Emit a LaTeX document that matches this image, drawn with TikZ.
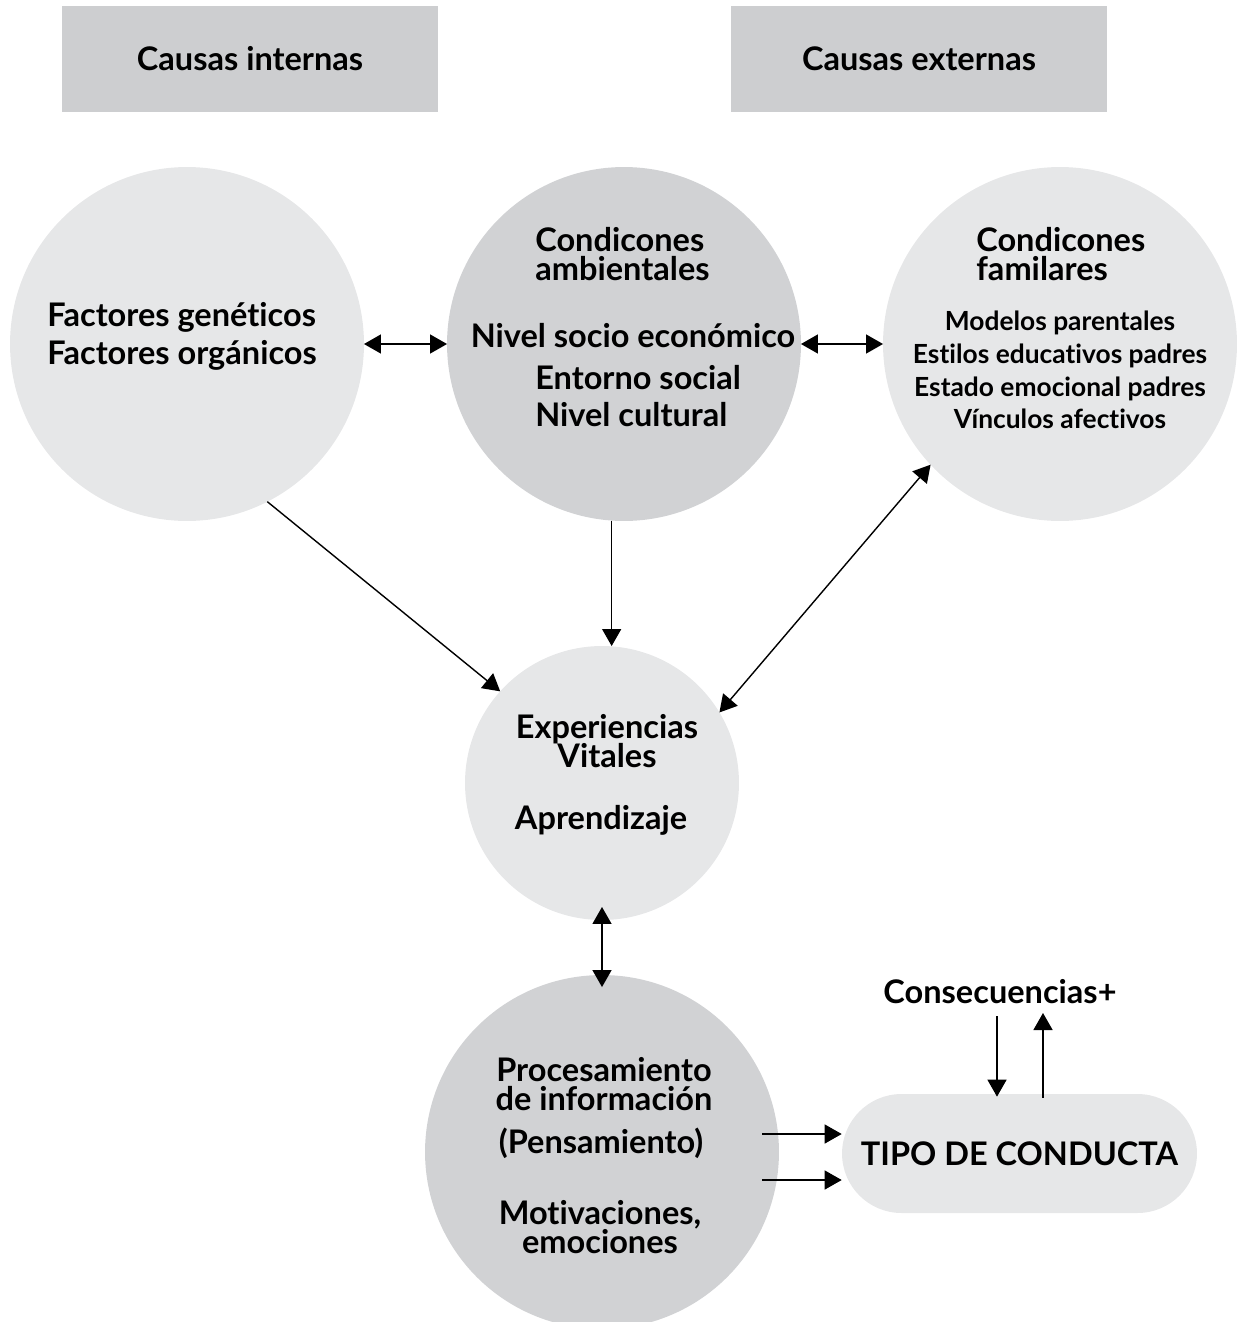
\documentclass[tikz,border=0pt]{standalone}
\usepackage{fontspec}
\setmainfont{Lato}[Ligatures=NoCommon]
\usetikzlibrary{calc,arrows.meta,positioning}
\definecolor{boxgray}{HTML}{CDCED0}
\definecolor{softgray}{HTML}{E6E7E8}
\definecolor{midgray}{HTML}{D1D2D4}
\newcommand{\mainsize}[1][21.6]{\fontsize{18.5}{#1}\selectfont\bfseries\lineskiplimit=-20pt\relax}
\newcommand{\subsize}{\fontsize{15}{18.7}\selectfont\bfseries\lineskiplimit=-20pt\relax}
\tikzset{
  causa/.style={fill=boxgray,minimum width=7.52cm,minimum height=2.12cm,inner sep=0pt,font=\mainsize},
  circ/.style={circle,inner sep=0pt,outer sep=0pt,minimum size=#1},
  pill/.style={fill=softgray,rounded corners=1.19cm,minimum width=7.1cm,minimum height=2.38cm,inner sep=0pt,font=\mainsize},
  txt/.style={inner sep=0pt,font=\mainsize},
  sgl/.style={line width=0.8pt,-{Triangle[length=0.34cm,width=0.38cm]}},
  dbl/.style={line width=0.8pt,{Triangle[length=0.34cm,width=0.38cm]}-{Triangle[length=0.34cm,width=0.38cm]}}
}
\begin{document}
\begin{tikzpicture}[x=0.02cm,y=-0.02cm]
  \useasboundingbox (0,0) rectangle (1241,1322);
  \node[causa] (internas) at (250,59) {Causas internas};
  \node[causa] (externas) at (919,59) {Causas externas};

  \node[circ=7.08cm,fill=softgray] (gen) at (187,344) {};
  \node[circ=7.08cm,fill=midgray] (amb) at (624,344) {};
  \node[circ=7.08cm,fill=softgray] (fam) at (1060,344) {};
  \node[circ=5.48cm,fill=softgray] (exp) at (602,783) {};
  \node[circ=7.08cm,fill=midgray] (proc) at (602,1152) {};
  \node[pill] (tipo) at (1019.5,1153.5) {TIPO DE CONDUCTA};

  \node[txt,align=left,anchor=west] (gentxt) at (47,336) {Factores genéticos\\Factores orgánicos};
  \node[txt,align=left,anchor=west,font={\mainsize[16.2]}] (ambtit) at (535,254) {Condicones\\ambientales};
  \node[txt] (ambnivel) at (633,336) {Nivel socio económico};
  \node[txt,align=left,anchor=west,font={\mainsize[21]}] (ambsub) at (535,396) {Entorno social\\Nivel cultural};
  \node[txt,align=left,anchor=west,font={\mainsize[16.2]}] (famtit) at (976,254) {Condicones\\familares};
  \node[txt,align=center,font=\subsize] (famsub) at (1060,370) {Modelos parentales\\Estilos educativos padres\\Estado emocional padres\\Vínculos afectivos};
  \node[txt,align=center,font={\mainsize[16.8]}] (exptit) at (607,741) {Experiencias\\Vitales};
  \node[txt] (expapr) at (601,820) {Aprendizaje};
  \node[txt,align=center,font={\mainsize[16.8]}] (proctit) at (604,1084) {Procesamiento\\de información};
  \node[txt] (procpens) at (601,1143) {(Pensamiento)};
  \node[txt,align=center,font={\mainsize[16.6]}] (procmot) at (600,1227) {Motivaciones,\\emociones};
  \node[txt] (cons) at (1000,992) {Consecuencias+};

  \coordinate (p1) at (762,1134);
  \coordinate (p2) at (762,1180);
  \coordinate (c1) at (997,1016);
  \coordinate (c2) at (1043,1013);

  \draw[dbl] (gen) -- (amb);
  \draw[dbl] (amb) -- (fam);
  \draw[sgl] (gen.-63) -- (exp.138);
  \draw[sgl] (amb.-94) -- (amb.-94 |- exp.north);
  \draw[dbl] (fam.-137) -- (exp.31);
  \draw[dbl] ([yshift=0.26cm]exp.south) -- ([yshift=-0.24cm]proc.north);
  \draw[sgl] (p1) -- (p1 -| tipo.west);
  \draw[sgl] (p2) -- (p2 -| tipo.west);
  \draw[sgl] (c1) -- ([yshift=-0.06cm]c1 |- tipo.north);
  \draw[sgl] ([yshift=-0.08cm]c2 |- tipo.north) -- (c2);
\end{tikzpicture}
\end{document}
